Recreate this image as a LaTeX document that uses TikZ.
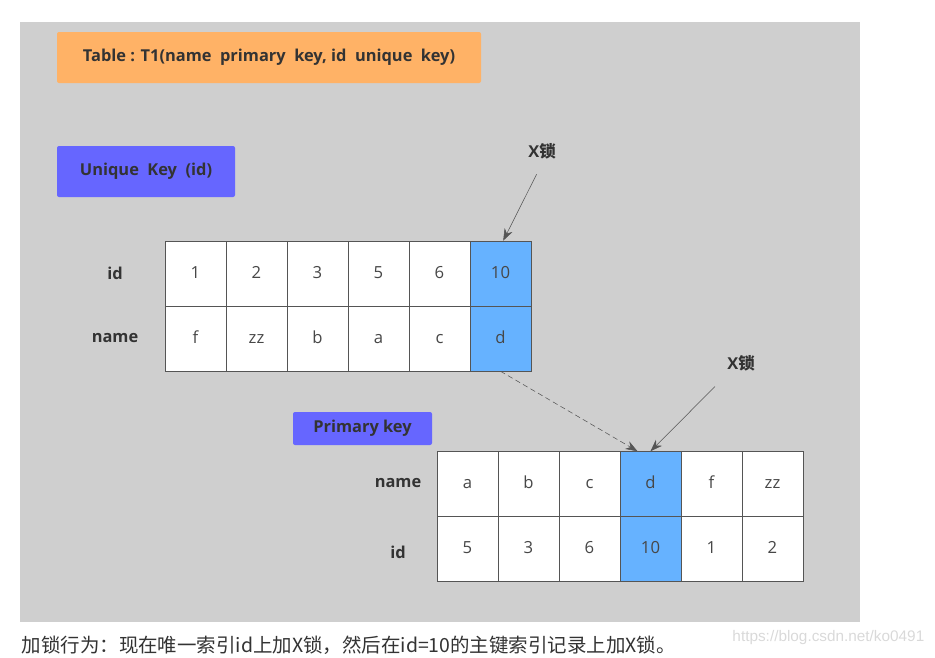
\documentclass[tikz,border=0pt]{standalone}
\usepackage{fontspec}
\setmainfont{Open Sans}
\newfontfamily\cjk{Noto Sans CJK SC}
\newfontfamily\marksf{Liberation Sans}
\usetikzlibrary{arrows.meta,positioning,calc}

\definecolor{bggray}{HTML}{CFCFCF}
\definecolor{tableorange}{HTML}{FFB266}
\definecolor{keyblue}{HTML}{6666FF}
\definecolor{lockblue}{HTML}{66B2FF}
\definecolor{textdark}{HTML}{333333}
\definecolor{linegray}{HTML}{555555}

\tikzset{
  cell/.style={draw=linegray, fill=white, minimum width=45.75pt, minimum height=48.75pt,
    inner sep=0pt, text height=1.6ex, text depth=0.3ex, text=textdark!90,
    font=\fontsize{12.5}{14}\selectfont},
  rowlabel/.style={text=textdark, font=\bfseries\fontsize{12.3}{14}\selectfont},
  keybox/.style={rounded corners=1.5pt, text=textdark, font=\bfseries\fontsize{12.3}{14}\selectfont},
  lockarrow/.style={draw=linegray, -{Stealth[length=9pt,width=6.5pt]}},
}

\begin{document}
\begin{tikzpicture}[x=0.75pt,y=-0.75pt]
    % Canvas
    \useasboundingbox (0,0) rectangle (935,657);
    \fill[bggray] (20,22) rectangle (860,622);

    % Headers
    \node[keybox, fill=tableorange, minimum width=318pt, minimum height=38.25pt] (title) at (269,57.5)
        {Table : T1(name~ primary~ key, id~ unique~ key)};
    \node[keybox, fill=keyblue, minimum width=133.5pt, minimum height=38.25pt] (ukey) at (146,171.5)
        {Unique~ Key~ (id)};
    \node[keybox, fill=keyblue, minimum width=104.25pt, minimum height=24.75pt] (pkey) at (362.5,428.5)
        {Primary key};

    % Unique index on id
    \node[rowlabel] (uidlabel) at (115,273) {id};
    \node[rowlabel] (unamelabel) at (115,338) {name};
    \foreach \v/\c [count=\i] in {1/white,2/white,3/white,5/white,6/white,10/lockblue}
        \node[cell, fill=\c] (uid\i) at ({134.5+61*\i},273.5) {\v};
    \foreach \v/\c [count=\i] in {f/white,zz/white,b/white,a/white,c/white,d/lockblue}
        \node[cell, fill=\c] (uname\i) at ({134.5+61*\i},338.5) {\v};

    % Primary key index on name
    \node[rowlabel] (pnamelabel) at (398,483) {name};
    \node[rowlabel] (pidlabel) at (398,552) {id};
    \foreach \v/\c [count=\i] in {a/white,b/white,c/white,d/lockblue,f/white,zz/white}
        \node[cell, fill=\c] (pname\i) at ({406.5+61*\i},484) {\v};
    \foreach \v/\c [count=\i] in {5/white,3/white,6/white,10/lockblue,1/white,2/white}
        \node[cell, fill=\c] (pid\i) at ({406.5+61*\i},549) {\v};

    % Locks
    \node[rowlabel] (lock1) at (542,151) {X{\cjk\bfseries 锁}};
    \node[rowlabel] (lock2) at (741,363) {X{\cjk\bfseries 锁}};
    \draw[lockarrow, shorten <=9pt] (lock1.south) -- ([xshift=2pt]uid6.north);
    \draw[lockarrow] ([shift={(-26,11)}]lock2.south) -- (pname4.north);
    \draw[lockarrow, dash pattern=on 4pt off 2.5pt] (uname6.south) -- ([xshift=-9.75pt]pname4.north);

    % Caption
    \node[anchor=west, text=textdark, font=\cjk\fontsize{14.6}{17}\selectfont] (caption) at (17,645)
        {加锁行为：现在唯一索引id上加X锁，然后在id=10的主键索引记录上加X锁。};
    \node[anchor=east, text=black!15, font=\marksf\fontsize{11.5}{13}\selectfont] (mark) at (929,638)
        {https://blog.csdn.net/ko0491};
\end{tikzpicture}
\end{document}
